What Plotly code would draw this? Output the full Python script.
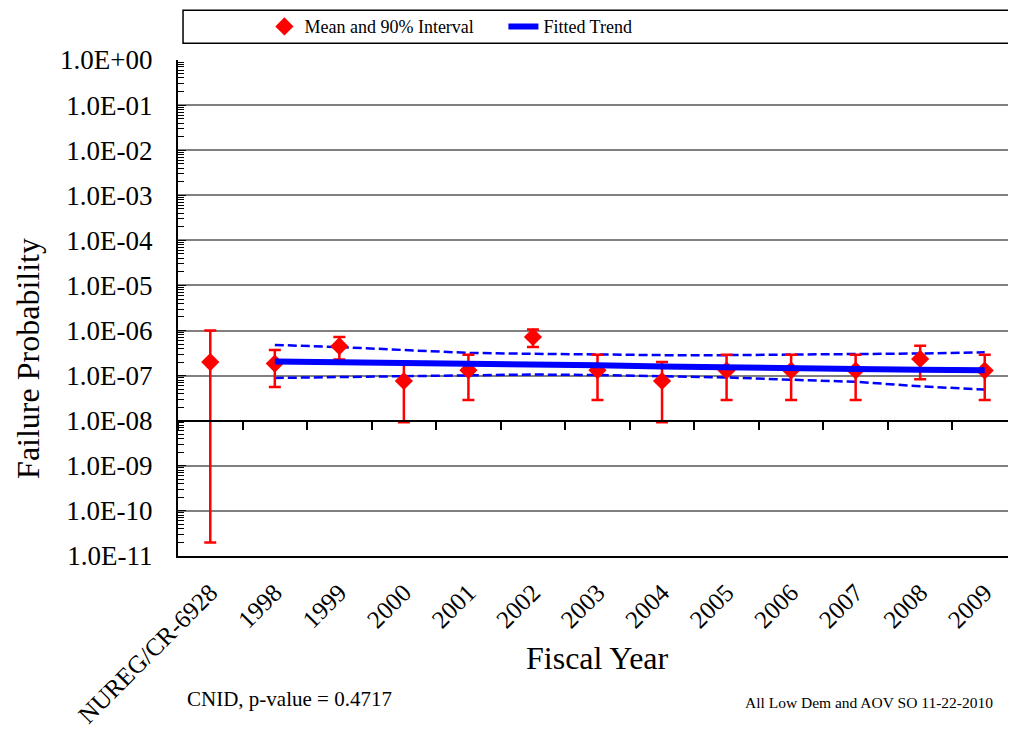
import plotly.graph_objects as go

categories = ["NUREG/CR-6928", "1998", "1999", "2000", "2001", "2002", "2003",
              "2004", "2005", "2006", "2007", "2008", "2009"]
mean_vals = [2.0e-7, 1.85e-7, 4.5e-7, 7.6e-8, 1.32e-7, 7.2e-7, 1.32e-7,
             7.6e-8, 1.3e-7, 1.3e-7, 1.3e-7, 2.35e-7, 1.3e-7]
upper_vals = [1.0e-6, 3.7e-7, 7.2e-7, 1.95e-7, 2.9e-7, 1.06e-6, 2.9e-7,
              2.0e-7, 2.9e-7, 2.9e-7, 2.9e-7, 4.6e-7, 2.9e-7]
lower_vals = [2.0e-11, 5.6e-8, 2.27e-7, 9.3e-9, 2.9e-8, 4.3e-7, 2.9e-8,
              9.3e-9, 2.9e-8, 2.9e-8, 2.9e-8, 8.3e-8, 2.9e-8]

trend_years = ["1998", "1999", "2000", "2001", "2002", "2003",
               "2004", "2005", "2006", "2007", "2008", "2009"]
trend_vals = [2.05e-7, 2.0e-7, 1.95e-7, 1.87e-7, 1.8e-7, 1.7e-7,
              1.6e-7, 1.5e-7, 1.45e-7, 1.4e-7, 1.35e-7, 1.32e-7]
trend_upper = [4.8e-7, 4.3e-7, 3.7e-7, 3.2e-7, 3.05e-7, 2.9e-7,
               2.85e-7, 2.85e-7, 2.9e-7, 2.95e-7, 3.1e-7, 3.3e-7]
trend_lower = [8.9e-8, 9.3e-8, 9.9e-8, 1.04e-7, 1.06e-7, 1.03e-7,
               9.8e-8, 9.1e-8, 8.1e-8, 7.3e-8, 5.8e-8, 4.9e-8]

ytick_vals = [1e0, 1e-1, 1e-2, 1e-3, 1e-4, 1e-5, 1e-6, 1e-7, 1e-8, 1e-9, 1e-10, 1e-11]
ytick_text = ["1.0E+00", "1.0E-01", "1.0E-02", "1.0E-03", "1.0E-04", "1.0E-05",
              "1.0E-06", "1.0E-07", "1.0E-08", "1.0E-09", "1.0E-10", "1.0E-11"]

FONT = "Liberation Serif"
RED = "#ff0000"
BLUE = "#0000ff"

err_plus = [u - m for u, m in zip(upper_vals, mean_vals)]
err_minus = [m - l for m, l in zip(mean_vals, lower_vals)]

fig = go.Figure()

# upper / lower bounds of fit (dashed)
fig.add_trace(go.Scatter(x=trend_years, y=trend_upper, mode="lines",
                         line=dict(color=BLUE, width=2.5, dash="9px,4px"),
                         showlegend=False, hoverinfo="skip"))
fig.add_trace(go.Scatter(x=trend_years, y=trend_lower, mode="lines",
                         line=dict(color=BLUE, width=2.5, dash="9px,4px"),
                         showlegend=False, hoverinfo="skip"))

fig.add_trace(go.Scatter(
    x=categories, y=mean_vals, mode="markers", name="Mean and 90% Interval",
    marker=dict(symbol="diamond", size=14, color=RED),
    error_y=dict(type="data", symmetric=False, array=err_plus, arrayminus=err_minus,
                 color=RED, thickness=2.5, width=6),
    legendrank=1,
))
fig.add_trace(go.Scatter(
    x=trend_years, y=trend_vals, mode="lines", name="Fitted Trend",
    line=dict(color=BLUE, width=6), legendrank=2,
))

# invisible trace carrying the crossing x axis (at 1E-08) and the minor y ticks
fig.add_trace(go.Scatter(x=categories, y=mean_vals, xaxis="x2", yaxis="y2",
                         mode="markers", marker=dict(opacity=0),
                         showlegend=False, hoverinfo="skip"))

fig.update_layout(
    width=1009, height=724,
    margin=dict(l=170, r=0, t=49, b=176),
    paper_bgcolor="white", plot_bgcolor="white",
    font=dict(family=FONT, color="black"),
    showlegend=True,
    legend=dict(orientation="h", x=0.103, xanchor="left", y=1.067, yanchor="middle",
                font=dict(family=FONT, size=18, color="black"),
                bgcolor="rgba(0,0,0,0)", entrywidth=194, traceorder="normal"),
    xaxis=dict(type="category", categoryorder="array", categoryarray=categories,
               range=[-0.5, 12.5], showgrid=False, ticks="", showline=True,
               linecolor="black", linewidth=2,
               tickangle=-45, tickfont=dict(family=FONT, size=25, color="black"),
               ticklabelstandoff=10),
    xaxis2=dict(type="category", categoryorder="array", categoryarray=categories,
                range=[-0.5, 12.5], overlaying="x", anchor="free", position=3 / 11,
                side="bottom", showgrid=False, showticklabels=False,
                ticks="outside", tickson="boundaries", ticklen=9, tickwidth=1.5,
                tickcolor="black", showline=True, linecolor="black", linewidth=1.5),
    yaxis=dict(type="log", range=[-11, 0], tickvals=ytick_vals, ticktext=ytick_text,
               tickfont=dict(family=FONT, size=27, color="black"),
               showgrid=True, gridcolor="#808080", gridwidth=1.5,
               showline=True, linecolor="black", linewidth=2,
               ticks="inside", ticklen=8, tickcolor="black",
               ticklabelstandoff=18),
    yaxis2=dict(type="log", range=[-11, 0], dtick="D1", overlaying="y", anchor="x",
                side="left", showgrid=False, showticklabels=False, showline=False,
                ticks="inside", ticklen=6, tickwidth=1, tickcolor="black"),
    shapes=[dict(type="rect", xref="paper", yref="paper",
                 x0=0.006, x1=0.9976, y0=1.034, y1=1.1002,
                 line=dict(color="black", width=1.5), fillcolor="rgba(0,0,0,0)")],
    annotations=[
        dict(text="Failure Probability", xref="paper", yref="paper", x=-0.179, y=0.399,
             xanchor="center", yanchor="middle", textangle=-90, showarrow=False,
             font=dict(family=FONT, size=32, color="black")),
        dict(text="Fiscal Year", xref="paper", yref="paper", x=0.5, y=-0.205,
             xanchor="center", yanchor="middle", showarrow=False,
             font=dict(family=FONT, size=32, color="black")),
        dict(text="CNID, p-value = 0.4717", xref="paper", yref="paper",
             x=0.008, y=-0.289, xanchor="left", yanchor="middle", showarrow=False,
             font=dict(family=FONT, size=21, color="black")),
        dict(text="All Low Dem and AOV SO 11-22-2010", xref="paper", yref="paper",
             x=0.9738, y=-0.295, xanchor="right", yanchor="middle", showarrow=False,
             font=dict(family=FONT, size=15.5, color="black")),
    ],
)

fig.write_html("out.html", default_width="1009px", default_height="724px")
